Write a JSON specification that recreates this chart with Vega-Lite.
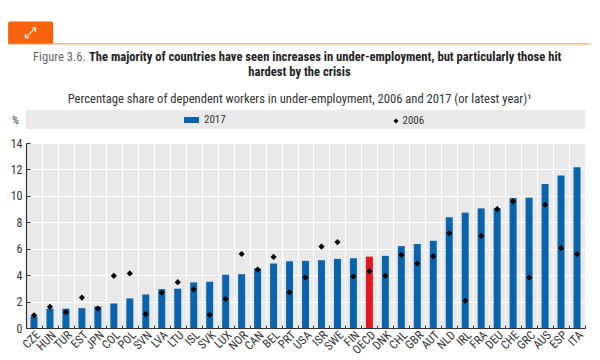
{"$schema":"https://vega.github.io/schema/vega-lite/v6.json","width":559,"height":185,"autosize":"none","padding":{"left":26,"top":143,"right":15,"bottom":32},"background":"white","view":{"fill":"#e9e9e9","stroke":null},"config":{"axisY":{"tickCount":7,"grid":true,"gridColor":"white","gridWidth":1,"labelFont":"Roboto Condensed, Roboto","labelFontSize":12,"labelColor":"#333333","labelPadding":8,"labelOverlap":false,"tickColor":"#333333","tickSize":-4,"domainColor":"#333333","domainWidth":1.2,"zindex":0,"titleAngle":0,"titleX":-11,"titleY":-18,"titleFont":"Roboto Condensed, Roboto","titleFontWeight":"normal","titleFontSize":11,"titleColor":"#333333"}},"title":{"text":"hardest by the crisis","subtitle":"Percentage share of dependent workers in under-employment, 2006 and 2017 (or latest year)¹","anchor":"middle","frame":"group","dx":-6,"font":"Roboto Condensed, Roboto","fontSize":12.6,"fontWeight":"bold","color":"#222222","lineHeight":15,"subtitleFont":"Roboto Condensed, Roboto","subtitleFontSize":12.6,"subtitleColor":"#333333","subtitlePadding":14,"offset":-84},"data":{"values":[{"country":"CZE","series":"2017","value":0.88},{"country":"HUN","series":"2017","value":1.46},{"country":"TUR","series":"2017","value":1.46},{"country":"EST","series":"2017","value":1.5},{"country":"JPN","series":"2017","value":1.63},{"country":"COL","series":"2017","value":1.86},{"country":"POL","series":"2017","value":2.24},{"country":"SVN","series":"2017","value":2.54},{"country":"LVA","series":"2017","value":2.94},{"country":"LTU","series":"2017","value":2.97},{"country":"ISL","series":"2017","value":3.45},{"country":"SVK","series":"2017","value":3.5},{"country":"LUX","series":"2017","value":4.03},{"country":"NOR","series":"2017","value":4.07},{"country":"CAN","series":"2017","value":4.5},{"country":"BEL","series":"2017","value":4.88},{"country":"PRT","series":"2017","value":5.05},{"country":"USA","series":"2017","value":5.08},{"country":"ISR","series":"2017","value":5.13},{"country":"SWE","series":"2017","value":5.23},{"country":"FIN","series":"2017","value":5.28},{"country":"OECD","series":"2017","value":5.4},{"country":"DNK","series":"2017","value":5.46},{"country":"CHL","series":"2017","value":6.2},{"country":"GBR","series":"2017","value":6.36},{"country":"AUT","series":"2017","value":6.6},{"country":"NLD","series":"2017","value":8.38},{"country":"IRL","series":"2017","value":8.73},{"country":"FRA","series":"2017","value":9.05},{"country":"DEU","series":"2017","value":9.05},{"country":"CHE","series":"2017","value":9.84},{"country":"GRC","series":"2017","value":9.86},{"country":"AUS","series":"2017","value":10.9},{"country":"ESP","series":"2017","value":11.55},{"country":"ITA","series":"2017","value":12.17},{"country":"CZE","series":"2006","value":0.96},{"country":"HUN","series":"2006","value":1.6},{"country":"TUR","series":"2006","value":1.2},{"country":"EST","series":"2006","value":2.3},{"country":"JPN","series":"2006","value":1.47},{"country":"COL","series":"2006","value":3.95},{"country":"POL","series":"2006","value":4.13},{"country":"SVN","series":"2006","value":1.05},{"country":"LVA","series":"2006","value":2.67},{"country":"LTU","series":"2006","value":3.47},{"country":"ISL","series":"2006","value":2.92},{"country":"SVK","series":"2006","value":1.0},{"country":"LUX","series":"2006","value":2.2},{"country":"NOR","series":"2006","value":5.6},{"country":"CAN","series":"2006","value":4.43},{"country":"BEL","series":"2006","value":5.38},{"country":"PRT","series":"2006","value":2.69},{"country":"USA","series":"2006","value":3.82},{"country":"ISR","series":"2006","value":6.16},{"country":"SWE","series":"2006","value":6.5},{"country":"FIN","series":"2006","value":3.9},{"country":"OECD","series":"2006","value":4.3},{"country":"DNK","series":"2006","value":3.95},{"country":"CHL","series":"2006","value":5.53},{"country":"GBR","series":"2006","value":4.88},{"country":"AUT","series":"2006","value":5.43},{"country":"NLD","series":"2006","value":7.17},{"country":"IRL","series":"2006","value":2.06},{"country":"FRA","series":"2006","value":6.97},{"country":"DEU","series":"2006","value":9.0},{"country":"CHE","series":"2006","value":9.58},{"country":"GRC","series":"2006","value":3.82},{"country":"AUS","series":"2006","value":9.33},{"country":"ESP","series":"2006","value":6.04},{"country":"ITA","series":"2006","value":5.6}]},"resolve":{"scale":{"x":"independent"}},"layer":[{"data":{"values":[{}]},"layer":[{"mark":{"type":"rect","fill":"#e9e9e9","clip":false},"encoding":{"x":{"datum":0,"type":"quantitative","scale":{"domain":[0,35]},"axis":null},"x2":{"datum":35},"y":{"datum":15.05,"type":"quantitative","scale":{"domain":[0,14]},"title":"%"},"y2":{"datum":16.5}}},{"mark":{"type":"rect","fill":"#f7630c","clip":false,"cornerRadiusTopLeft":2,"cornerRadiusTopRight":2},"encoding":{"x":{"datum":-1.12,"type":"quantitative","scale":{"domain":[0,35]},"axis":null},"x2":{"datum":1.7},"y":{"datum":21.5,"type":"quantitative","title":"%"},"y2":{"datum":23.2}}},{"mark":{"type":"rule","stroke":"#ee8a50","strokeWidth":1,"clip":false},"encoding":{"x":{"datum":-1.12,"type":"quantitative","scale":{"domain":[0,35]},"axis":null},"x2":{"datum":35.3},"y":{"datum":21.5,"type":"quantitative","title":"%"}}},{"mark":{"type":"text","text":"⤢","color":"white","fontSize":15,"font":"DejaVu Sans","align":"center","baseline":"middle","clip":false},"encoding":{"x":{"datum":0.25,"type":"quantitative","scale":{"domain":[0,35]},"axis":null},"y":{"datum":22.35,"type":"quantitative","title":"%"}}},{"mark":{"type":"text","text":"Figure 3.6.","color":"#666666","fontSize":12.6,"font":"Roboto Condensed, Roboto","align":"left","baseline":"middle","clip":false},"encoding":{"x":{"datum":0.44,"type":"quantitative","scale":{"domain":[0,35]},"axis":null},"y":{"datum":20.5,"type":"quantitative","title":"%"}}},{"mark":{"type":"text","text":"The majority of countries have seen increases in under-employment, but particularly those hit","color":"#222222","fontSize":12.6,"fontWeight":"bold","font":"Roboto Condensed, Roboto","align":"left","baseline":"middle","clip":false},"encoding":{"x":{"datum":3.94,"type":"quantitative","scale":{"domain":[0,35]},"axis":null},"y":{"datum":20.5,"type":"quantitative","title":"%"}}}]},{"layer":[{"transform":[{"filter":"datum.series==='2017'"}],"mark":{"type":"bar","width":7},"encoding":{"x":{"field":"country","type":"nominal","sort":null,"scale":{"paddingInner":0,"paddingOuter":0},"axis":{"title":null,"tickBand":"extent","grid":true,"gridColor":"white","gridWidth":1,"labelAngle":-45,"labelAlign":"right","labelBaseline":"top","labelFont":"Roboto Condensed, Roboto","labelFontSize":12,"labelColor":"#333333","labelPadding":4,"labelOverlap":false,"tickColor":"#333333","tickSize":-3,"domainColor":"#333333","domainWidth":1.2,"zindex":0}},"y":{"field":"value","type":"quantitative","scale":{"domain":[0,14]},"title":"%"},"color":{"condition":{"test":"datum.country==='OECD'","value":"#e3171f"},"field":"series","type":"nominal","scale":{"domain":["2017"],"range":["#0a64ad"]},"legend":{"title":null,"orient":"none","legendX":157,"legendY":-31.5,"symbolType":"M-1,-0.4H1V0.4H-1Z","symbolSize":225,"labelFont":"Roboto Condensed, Roboto","labelFontSize":11,"labelColor":"#333333","labelOffset":4}}}},{"transform":[{"filter":"datum.series==='2006'"}],"mark":{"type":"point","filled":true,"color":"black","size":38,"opacity":1},"encoding":{"x":{"field":"country","type":"nominal","sort":null},"y":{"field":"value","type":"quantitative","title":"%"},"shape":{"field":"series","type":"nominal","scale":{"domain":["2006"],"range":["diamond"]},"legend":{"title":null,"orient":"none","legendX":364.5,"legendY":-27.5,"symbolSize":25,"symbolFillColor":"black","symbolStrokeColor":"black","labelFont":"Roboto Condensed, Roboto","labelFontSize":11,"labelColor":"#333333","labelOffset":1}}}}]}]}
